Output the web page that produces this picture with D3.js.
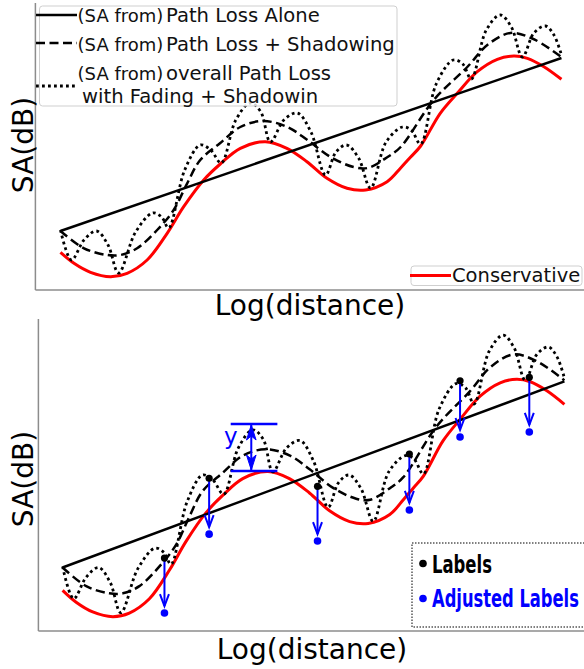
<!DOCTYPE html>
<html><head><meta charset="utf-8">
<script src="https://cdn.jsdelivr.net/npm/d3@7/dist/d3.min.js"></script>
<style>body{margin:0;background:#fff}svg{display:block}text{font-family:"DejaVu Sans",sans-serif}</style>
</head><body>
<svg id="c" width="584" height="669"></svg>
<script>
// ---- data (x = log distance, y = SA in dB) ----
const solidX = [0, 10];
const solidY = [5.9, 23.2];

const redX = [0, 0.27, 0.6, 1.0, 1.33, 1.73, 2.13, 2.46, 2.86, 3.19, 3.59, 4.09, 4.52, 4.92, 5.32, 5.72, 6.09, 6.52, 6.79, 6.99, 7.19, 7.58, 7.92, 8.32, 8.72, 9.05, 9.32, 9.65, 10];
const redY = [3.77, 2.67, 1.77, 1.33, 1.67, 3.0, 5.67, 8.33, 11.0, 12.6, 14.17, 14.83, 14.17, 12.83, 11.17, 10.17, 10.0, 10.83, 12.2, 13.3, 14.4, 17.67, 19.67, 21.83, 23.07, 23.4, 23.17, 22.33, 21.07];

const dashX = [0, 0.47, 0.93, 1.2, 1.53, 1.93, 2.26, 2.53, 2.79, 3.19, 3.59, 4.05, 4.53, 4.93, 5.39, 5.85, 6.13, 6.53, 6.79, 7.45, 8.12, 8.52, 8.98, 9.44, 10];
const dashY = [5.9, 4.17, 3.5, 3.5, 4.17, 6.0, 8.0, 10.67, 13.0, 14.7, 16.3, 16.9, 16.3, 15.0, 13.3, 12.3, 12.2, 13.3, 14.3, 19.0, 22.3, 24.5, 25.7, 25.1, 23.3];

const dotX = [0, 0.22, 0.47, 0.72, 0.95, 1.16, 1.5, 1.84, 2.02, 2.16, 2.48, 2.79, 3.0, 3.21, 3.5, 3.79, 4.0, 4.19, 4.46, 4.73, 5.0, 5.29, 5.5, 5.71, 5.95, 6.19, 6.5, 6.83, 7.0, 7.19, 7.5, 7.84, 8.03, 8.2, 8.5, 8.78, 9.0, 9.22, 9.45, 9.68, 9.85, 10];
const dotY = [6.0, 3.0, 5.0, 5.9, 4.5, 1.7, 5.8, 7.7, 7.3, 6.2, 12.0, 14.5, 14.0, 12.7, 17.0, 18.7, 17.8, 14.8, 17.0, 17.7, 15.8, 11.5, 13.8, 14.5, 13.2, 10.2, 14.8, 16.3, 16.0, 14.6, 20.6, 23.0, 22.6, 21.1, 26.0, 27.5, 26.3, 23.3, 25.7, 26.4, 25.5, 23.5];

const labelX = [2.03, 2.92, 5.08, 6.91, 7.92, 9.3];
const labelY = [6.78, 14.2, 13.45, 16.45, 23.26, 23.58];
const adjustedY = [1.67, 9.0, 8.36, 11.25, 18.03, 18.5];

const marginX = [3.35, 4.28];   // extent of the "y" bars
const marginArrowX = 3.76;
const marginY = [19.24, 14.87]; // top bar, bottom bar

const legendTop = ["Path Loss Alone", "Path Loss + Shadowing", "overall Path Loss", "with Fading + Shadowin"];
const legendPrefix = "(SA from)";
const legendRed = "Conservative";
const legendBottom = ["Labels", "Adjusted Labels"];
const xLabel = "Log(distance)";
const yLabel = "SA(dB)";

const svg = d3.select("#c");
const BLUE = "#0000ff";
const DOTS = "2.8,3.2";
const DASH = "9,4.5";

function zip(xs, ys){ return xs.map((x,i)=>[x, ys[i]]); }

function panel(cfg){
  const x = d3.scaleLinear().domain(cfg.xd).range([cfg.left, 584]);
  const y = d3.scaleLinear().domain([0, 29]).range([cfg.bottom, cfg.top]);
  const g = svg.append("g");
  g.append("line").attr("x1", cfg.left).attr("x2", cfg.left).attr("y1", cfg.spineTop).attr("y2", cfg.bottom)
    .attr("stroke", "#8c8c8c").attr("stroke-width", 1.5);
  g.append("line").attr("x1", cfg.left).attr("x2", 584).attr("y1", cfg.bottom).attr("y2", cfg.bottom)
    .attr("stroke", "#8c8c8c").attr("stroke-width", 1.5);
  const lineLin = d3.line().x(d=>x(d[0])).y(d=>y(d[1]));
  const lineSmooth = d3.line().x(d=>x(d[0])).y(d=>y(d[1])).curve(d3.curveCatmullRom.alpha(0.5));
  g.append("path").attr("d", lineSmooth(zip(redX, redY))).attr("fill","none").attr("stroke","#ff0000").attr("stroke-width",3);
  g.append("path").attr("d", lineLin(zip(solidX, solidY))).attr("fill","none").attr("stroke","#000").attr("stroke-width",2.5);
  g.append("path").attr("d", lineSmooth(zip(dashX, dashY))).attr("fill","none").attr("stroke","#000").attr("stroke-width",2.5).attr("stroke-dasharray",DASH);
  g.append("path").attr("d", lineSmooth(zip(dotX, dotY))).attr("fill","none").attr("stroke","#000").attr("stroke-width",2.8).attr("stroke-dasharray",DOTS);
  g.append("text").attr("x", cfg.xlx).attr("y", cfg.xly).attr("text-anchor","middle").attr("font-size",28).text(xLabel);
  g.append("text").attr("transform", `translate(32.5,${cfg.ylc}) rotate(-90)`).attr("text-anchor","middle").attr("font-size",28).text(yLabel);
  return {g, x, y};
}

function fitText(g, txt, x0, base, width, size, color){
  const t = g.append("text").attr("x",0).attr("y",0).attr("font-size",size).attr("font-weight","bold")
    .style("font-family",'"Liberation Sans Narrow","DejaVu Sans Condensed","DejaVu Sans",sans-serif')
    .attr("fill",color).text(txt);
  const w = t.node().getComputedTextLength() || width;
  t.attr("transform",`translate(${x0},${base}) scale(${width/w},1)`);
}

// ---------- top panel ----------
const P1 = panel({xd:[-0.5, 10.45], left:35.4, top:0, bottom:290, spineTop:3, xlx:310, xly:315, ylc:145});
{
  const g = P1.g;
  g.append("rect").attr("x",39.5).attr("y",6).attr("width",357.5).attr("height",100).attr("rx",3)
    .attr("fill","#fff").attr("fill-opacity",0.8).attr("stroke","#cfcfcf").attr("stroke-width",1);
  const hx0 = 36, hx1 = 77;
  g.append("line").attr("x1",hx0).attr("x2",hx1).attr("y1",15).attr("y2",15).attr("stroke","#000").attr("stroke-width",2.5);
  g.append("line").attr("x1",hx0).attr("x2",hx1).attr("y1",43).attr("y2",43).attr("stroke","#000").attr("stroke-width",2.5).attr("stroke-dasharray",DASH);
  g.append("line").attr("x1",hx0).attr("x2",hx1).attr("y1",86).attr("y2",86).attr("stroke","#000").attr("stroke-width",2.8).attr("stroke-dasharray",DOTS);
  const base = [22, 51, 80, 102.5];
  [0,1,2].forEach(i=>{
    g.append("text").attr("x",77.6).attr("y",base[i]).attr("font-size",18).attr("fill","#111").text(legendPrefix);
    g.append("text").attr("x",166).attr("y",base[i]).attr("font-size",19.6).attr("fill","#111").text(legendTop[i]);
  });
  g.append("text").attr("x",82).attr("y",base[3]).attr("font-size",19.6).attr("fill","#111").text(legendTop[3]);
  g.append("rect").attr("x",411).attr("y",266).attr("width",171).attr("height",19.5).attr("rx",3)
    .attr("fill","#fff").attr("fill-opacity",0.8).attr("stroke","#cfcfcf").attr("stroke-width",1);
  g.append("line").attr("x1",410).attr("x2",451).attr("y1",275.5).attr("y2",275.5).attr("stroke","#ff0000").attr("stroke-width",3);
  g.append("text").attr("x",452).attr("y",282).attr("font-size",19.5).attr("fill","#111").text(legendRed);
}

// ---------- bottom panel ----------
const P2 = panel({xd:[-0.482, 10.39], left:38.4, top:319, bottom:631, spineTop:319, xlx:312, xly:659, ylc:479});
{
  const {g, x, y} = P2;
  labelX.forEach((lx,i)=>{
    const px = x(lx), py0 = y(labelY[i]), py1 = y(adjustedY[i]);
    const tip = py1 - 7;
    g.append("line").attr("x1",px).attr("x2",px).attr("y1",py0).attr("y2",tip).attr("stroke",BLUE).attr("stroke-width",2);
    g.append("path").attr("d",`M${px-4.5},${tip-12}L${px},${tip}L${px+4.5},${tip-12}`).attr("fill","none").attr("stroke",BLUE).attr("stroke-width",2);
  });
  g.selectAll("circle.lab").data(labelX).join("circle").attr("class","lab")
    .attr("cx",d=>x(d)).attr("cy",(d,i)=>y(labelY[i])).attr("r",3.6).attr("fill","#000");
  g.selectAll("circle.adj").data(labelX).join("circle").attr("class","adj")
    .attr("cx",d=>x(d)).attr("cy",(d,i)=>y(adjustedY[i])).attr("r",3.8).attr("fill",BLUE);
  [0,1].forEach(k=>{
    g.append("line").attr("x1",x(marginX[0])).attr("x2",x(marginX[1])).attr("y1",y(marginY[k])).attr("y2",y(marginY[k]))
      .attr("stroke",BLUE).attr("stroke-width",2.5);
  });
  const ax = x(marginArrowX), at = y(marginY[0]) + 1, ab = y(marginY[1]) - 1;
  g.append("line").attr("x1",ax).attr("x2",ax).attr("y1",at).attr("y2",ab).attr("stroke",BLUE).attr("stroke-width",2);
  g.append("path").attr("d",`M${ax},${at}L${ax-4.8},${at+15}L${ax},${at+11}L${ax+4.8},${at+15}Z`).attr("fill",BLUE).attr("stroke",BLUE).attr("stroke-width",1);
  g.append("path").attr("d",`M${ax},${ab}L${ax-4.8},${ab-15}L${ax},${ab-11}L${ax+4.8},${ab-15}Z`).attr("fill",BLUE).attr("stroke",BLUE).attr("stroke-width",1);
  g.append("text").attr("x",224).attr("y",444).attr("font-size",23).attr("fill",BLUE).text("y");
  g.append("rect").attr("x",412).attr("y",543).attr("width",180).attr("height",84)
    .attr("fill","#fff").attr("stroke","#000").attr("stroke-width",1).attr("stroke-dasharray","1.5,1.5");
  g.append("circle").attr("cx",423).attr("cy",563.5).attr("r",3.8).attr("fill","#000");
  g.append("circle").attr("cx",423).attr("cy",598.5).attr("r",3.8).attr("fill",BLUE);
  fitText(g, legendBottom[0], 432, 573, 60, 25, "#000");
  fitText(g, legendBottom[1], 432, 607, 147, 25, BLUE);
}
</script>
</body></html>
